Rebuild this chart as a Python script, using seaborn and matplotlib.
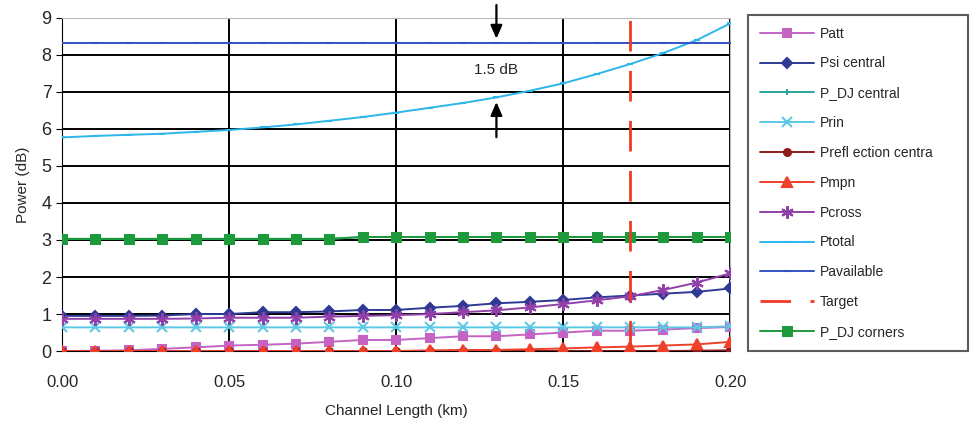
import numpy as np
import pandas as pd
import seaborn as sns
import matplotlib.pyplot as plt

# x values: channel length in km
length_km = [round(0.01 * i, 2) for i in range(21)]

# series
p_att = [0.0, 0.01, 0.02, 0.06, 0.10, 0.15, 0.17, 0.20, 0.25, 0.30, 0.30,
         0.35, 0.40, 0.40, 0.45, 0.50, 0.55, 0.55, 0.58, 0.62, 0.65]
p_si_central = [0.95, 0.95, 0.95, 0.96, 1.00, 1.00, 1.05, 1.05, 1.07, 1.11, 1.11,
                1.17, 1.22, 1.29, 1.33, 1.38, 1.45, 1.50, 1.55, 1.60, 1.69]
p_dj_central = [3.03] * 9 + [3.08] * 12
p_rin = [0.64] * 20 + [0.67]
p_reflection = [0.0] * 18 + [0.0, 0.01, 0.02]
p_mpn = [0.0] * 11 + [0.02, 0.03, 0.03, 0.05, 0.07, 0.10, 0.12, 0.15, 0.18, 0.25]
p_cross = [0.87, 0.87, 0.87, 0.87, 0.88, 0.90, 0.90, 0.90, 0.93, 0.95, 0.97,
           1.00, 1.05, 1.10, 1.18, 1.27, 1.37, 1.48, 1.65, 1.85, 2.10]
p_total = [5.77, 5.81, 5.84, 5.87, 5.92, 5.97, 6.04, 6.12, 6.22, 6.32, 6.44,
           6.57, 6.70, 6.85, 7.03, 7.23, 7.48, 7.75, 8.05, 8.40, 8.85]
p_available = [8.33] * 21
p_dj_corners = [3.03] * 9 + [3.08] * 12
target_km = 0.17

series = [
    ("Patt", p_att, "#c463c4", "s", 6),
    ("Psi central", p_si_central, "#2e3a94", "D", 5.5),
    ("P_DJ central", p_dj_central, "#2aa39a", "|", 4),
    ("Prin", p_rin, "#5cc9e4", "x", 7),
    ("Prefl ection centra", p_reflection, "#8e1c1c", "o", 5),
    ("Pmpn", p_mpn, "#f0402a", "^", 7),
    ("Pcross", p_cross, "#9040a8", (6, 2, 0), 9),
    ("Ptotal", p_total, "#2cb6ea", "_", 5),
    ("Pavailable", p_available, "#3452c4", "_", 5),
]

sns.set_style("white")
plt.rcParams['font.family'] = ['Liberation Sans', 'DejaVu Sans']

fig = plt.figure(figsize=(9.77, 4.24), dpi=100)
ax = fig.add_axes([0.0635, 0.172, 0.684, 0.786])

for name, vals, col, mk, ms in series:
    df = pd.DataFrame({"x": length_km, "y": vals})
    sns.lineplot(data=df, x="x", y="y", ax=ax, color=col, marker=mk,
                 markersize=ms, markeredgecolor=col, markeredgewidth=1.5,
                 linewidth=1.4, label=name, zorder=3)

ax.axvline(target_km, color="#f03a22", linestyle=(0, (11, 7)), linewidth=2,
           label="Target", zorder=4)

df = pd.DataFrame({"x": length_km, "y": p_dj_corners})
sns.lineplot(data=df, x="x", y="y", ax=ax, color="#1c9a3c", marker="s",
             markersize=7, markeredgecolor="#1c9a3c", linewidth=1.4,
             label="P_DJ corners", zorder=3)

ax.set_xlim(0, 0.2)
ax.set_ylim(0, 9)
ax.set_xticks([0.0, 0.05, 0.10, 0.15, 0.20])
ax.set_xticklabels(["0.00", "0.05", "0.10", "0.15", "0.20"])
ax.set_yticks(range(10))
ax.grid(True, color="black", linewidth=1.4, zorder=0)
ax.set_axisbelow(True)
ax.tick_params(axis="y", length=4, left=True, color="black", labelsize=13)
ax.tick_params(axis="x", length=0, labelsize=12, pad=17)
for s in ["top", "right"]:
    ax.spines[s].set_color("#bbbbbb")
ax.spines["left"].set_color("black")
ax.spines["bottom"].set_color("black")

ax.set_xlabel("Channel Length (km)", fontsize=11, labelpad=10)
ax.set_ylabel("Power (dB)", fontsize=11, labelpad=8)

# 1.5 dB gap annotation
ax.annotate("", xy=(0.13, 8.36), xytext=(0.13, 9.42),
            arrowprops=dict(arrowstyle="-|>,head_width=0.35,head_length=0.8",
                            color="black", lw=1.6),
            annotation_clip=False)
ax.annotate("", xy=(0.13, 6.8), xytext=(0.13, 5.7),
            arrowprops=dict(arrowstyle="-|>,head_width=0.35,head_length=0.8",
                            color="black", lw=1.6))
ax.text(0.13, 7.6, "1.5 dB", ha="center", va="center", fontsize=11)

handles, labels = ax.get_legend_handles_labels()
if ax.get_legend():
    ax.get_legend().remove()
leg = fig.legend(handles, labels, loc="upper left",
                 bbox_to_anchor=(0.7656, 0.965, 0.2252, 0.0), mode="expand",
                 borderaxespad=0, fontsize=10, labelspacing=1.14,
                 handlelength=3.9, handletextpad=0.4, frameon=True,
                 fancybox=False, borderpad=0.85)
leg.get_frame().set_edgecolor("#333333")
leg.get_frame().set_linewidth(1.5)

fig.savefig("out.png", dpi=100)
